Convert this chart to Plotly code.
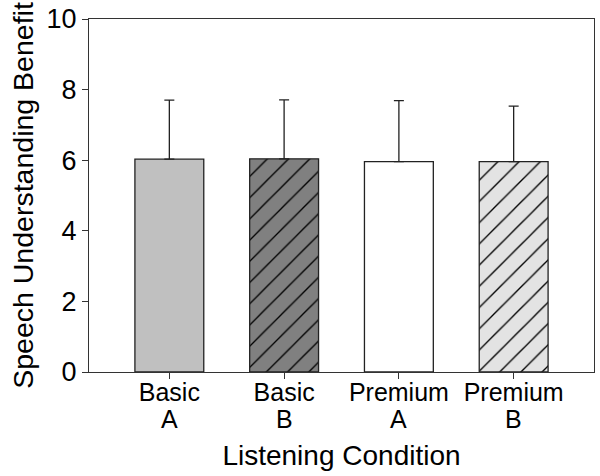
import plotly.graph_objects as go

cat_line1 = ["Basic", "Basic", "Premium", "Premium"]
cat_line2 = ["A", "B", "A", "B"]
means = [6.03, 6.04, 5.96, 5.96]
sd_upper = [1.67, 1.67, 1.73, 1.57]
fills = ["#c0c0c0", "#808080", "#ffffff", "#e3e3e3"]
hatches = ["", "/", "", "/"]
y_ticks = [0, 2, 4, 6, 8, 10]

font_family = "Liberation Sans, Arial, sans-serif"
xs = list(range(len(cat_line1)))

fig = go.Figure()
for x, m, e, c, h in zip(xs, means, sd_upper, fills, hatches):
    fig.add_trace(go.Bar(
        x=[x],
        y=[m],
        width=0.6,
        marker=dict(
            color=c,
            line=dict(color="#222222", width=1.3),
            pattern=dict(shape=h, fgcolor="#000000", bgcolor=c,
                         fgopacity=1, size=15, solidity=0.09),
        ),
        error_y=dict(type="data", symmetric=False, array=[e],
                     arrayminus=[0], color="#222222",
                     thickness=1.3, width=5),
        showlegend=False,
    ))

for x, t in zip(xs, cat_line2):
    fig.add_annotation(x=x, xref="x", y=0, yref="paper", yanchor="top",
                       yshift=-31, text=t, showarrow=False,
                       font=dict(size=25, family=font_family, color="#000000"))

axis_line = "#333333"
fig.update_layout(
    width=600, height=476,
    margin=dict(l=89, r=6, t=19, b=104),
    paper_bgcolor="white", plot_bgcolor="white",
    font=dict(family=font_family, color="#000000"),
    barmode="overlay",
    xaxis=dict(
        range=[-0.70, 3.70],
        tickmode="array",
        tickvals=xs,
        ticktext=cat_line1,
        ticks="outside", ticklen=6, tickcolor=axis_line, tickwidth=1,
        tickfont=dict(size=25), ticklabelstandoff=-8,
        ticklabeloverflow="allow",
        showline=True, linecolor=axis_line, linewidth=1.2, mirror=True,
        showgrid=False, zeroline=False, automargin=False,
        title=dict(text="Listening Condition", font=dict(size=28), standoff=40),
    ),
    yaxis=dict(
        range=[0, 10],
        tickmode="array", tickvals=y_ticks,
        ticks="outside", ticklen=6, tickcolor=axis_line, tickwidth=1,
        tickfont=dict(size=27),
        ticklabeloverflow="allow",
        showline=True, linecolor=axis_line, linewidth=1.2, mirror=True,
        showgrid=False, zeroline=False, automargin=False,
        title=dict(text="Speech Understanding Benefit", font=dict(size=28.5), standoff=4),
    ),
)

fig.write_html("out.html", config={"displayModeBar": False},
               post_script="document.body.style.margin='0';")
